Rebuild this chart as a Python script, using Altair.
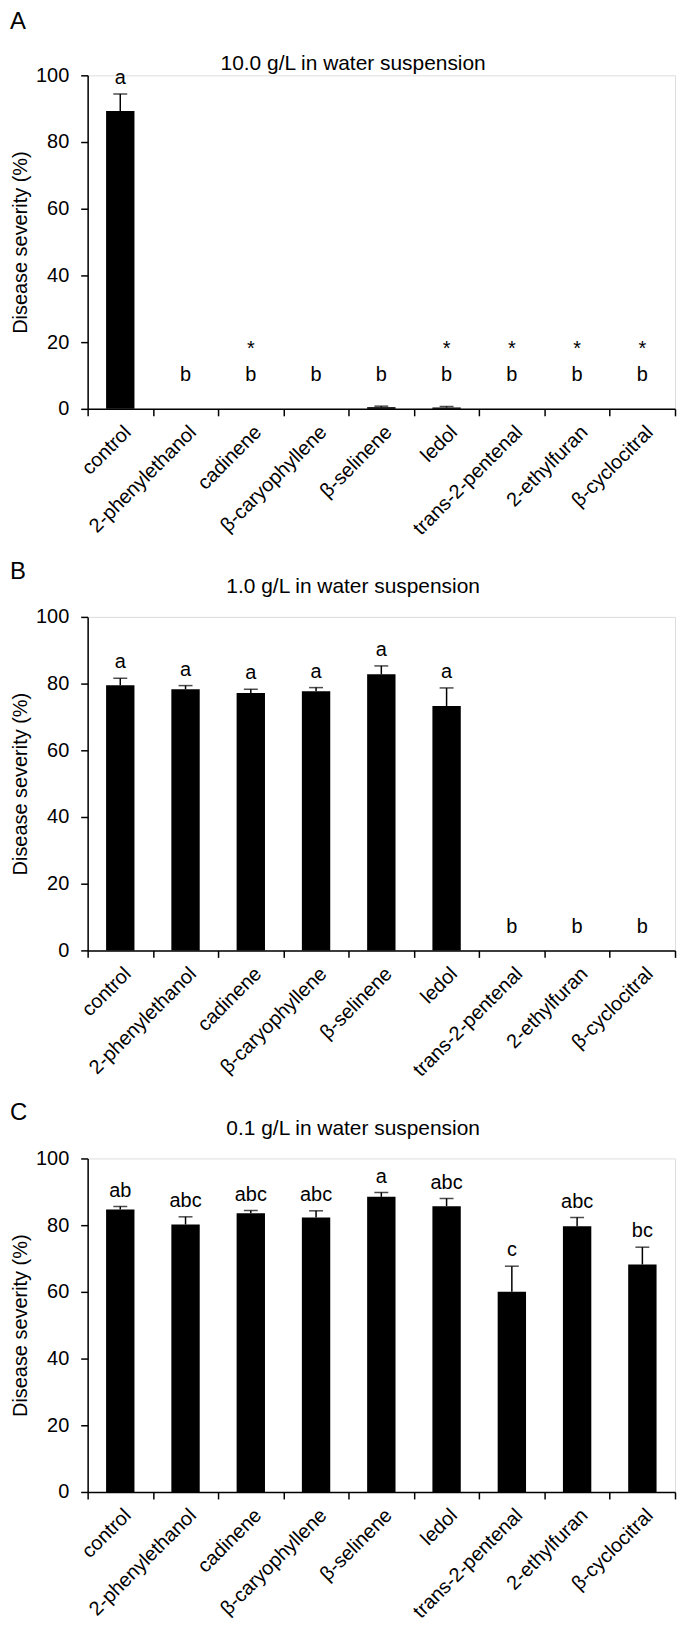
import altair as alt
import pandas as pd

compounds = ["control", "2-phenylethanol", "cadinene", "β-caryophyllene", "β-selinene",
             "ledol", "trans-2-pentenal", "2-ethylfuran", "β-cyclocitral"]

panel_letters = ["A", "B", "C"]
panel_titles = ["10.0 g/L in water suspension",
                "1.0 g/L in water suspension",
                "0.1 g/L in water suspension"]

# 10.0 g/L
sev_10 = [89.3, 0.0, 0.0, 0.0, 0.5, 0.4, 0.0, 0.0, 0.0]
sem_10 = [5.1, 0.0, 0.0, 0.0, 0.3, 0.3, 0.0, 0.0, 0.0]
grp_10 = ["a", "b", "b", "b", "b", "b", "b", "b", "b"]
star_10 = ["", "", "*", "", "", "*", "*", "*", "*"]

# 1.0 g/L
sev_1 = [79.5, 78.3, 77.2, 77.7, 82.8, 73.3, 0.0, 0.0, 0.0]
sem_1 = [2.1, 1.1, 1.1, 1.1, 2.5, 5.4, 0.0, 0.0, 0.0]
grp_1 = ["a", "a", "a", "a", "a", "a", "b", "b", "b"]
star_1 = ["", "", "", "", "", "", "", "", ""]

# 0.1 g/L
sev_01 = [84.7, 80.2, 83.6, 82.3, 88.5, 85.7, 60.0, 79.7, 68.2]
sem_01 = [0.9, 2.3, 0.8, 2.0, 1.3, 2.3, 7.7, 2.6, 5.2]
grp_01 = ["ab", "abc", "abc", "abc", "a", "abc", "c", "abc", "bc"]
star_01 = ["", "", "", "", "", "", "", "", ""]

# lowest height (in % units) at which a letter is written above an empty bar
label_floor = [5.4, 2.1, 0.0]

FONT = "Liberation Sans"
W, H = 590, 335


def panel(sev, sem, grp, star, floor, title, letter, title_off, letter_off):
    df = pd.DataFrame({"compound": compounds, "sev": sev, "sem": sem,
                       "grp": grp, "star": star})
    df["top"] = df["sev"] + df["sem"]
    df["lab"] = df["top"].clip(lower=floor)

    x = alt.X("compound:N", sort=compounds,
              scale=alt.Scale(paddingInner=0, paddingOuter=0),
              axis=alt.Axis(title=None, labelAngle=-45, labelAlign="right",
                            labelBaseline="top", labelPadding=6,
                            labelFontSize=20, labelFont=FONT, labelColor="black",
                            tickBand="extent", tickSize=7, tickColor="black",
                            tickWidth=1.5, domainColor="black", domainWidth=1.5,
                            labelLimit=300))
    yscale = alt.Scale(domain=[0, 100], nice=False, zero=True)
    y = alt.Y("sev:Q", scale=yscale,
              axis=alt.Axis(values=[0, 20, 40, 60, 80, 100], grid=False,
                            title="Disease severity (%)", titleFontSize=20,
                            titleFont=FONT, titleFontWeight="normal",
                            titleColor="black", titlePadding=5,
                            labelFontSize=20, labelFont=FONT, labelColor="black",
                            labelPadding=12, tickSize=7, tickColor="black",
                            tickWidth=1.5, domainColor="black", domainWidth=1.5))

    base = alt.Chart(df)
    bars = base.mark_bar(color="black", size=28.5).encode(x=x, y=y)
    err = base.transform_filter("datum.sem > 0").mark_rule(
        color="black", strokeWidth=1.5).encode(
        x=alt.X("compound:N", sort=compounds),
        y=alt.Y("sev:Q", scale=yscale), y2="top:Q")
    cap = base.transform_filter("datum.sem > 0").mark_tick(
        color="black", thickness=1.5, size=14).encode(
        x=alt.X("compound:N", sort=compounds),
        y=alt.Y("top:Q", scale=yscale))
    letters = base.mark_text(font=FONT, fontSize=20, color="black",
                             baseline="alphabetic", dy=-10).encode(
        x=alt.X("compound:N", sort=compounds),
        y=alt.Y("lab:Q", scale=yscale), text="grp:N")
    stars = base.transform_filter("datum.star != ''").mark_text(
        font=FONT, fontSize=20, color="black", baseline="alphabetic",
        dy=-36).encode(
        x=alt.X("compound:N", sort=compounds),
        y=alt.Y("lab:Q", scale=yscale), text="star:N")

    layer = alt.layer(bars, err, cap, letters, stars).properties(
        width=W, height=H,
        title=alt.Title(title, fontSize=21, font=FONT, fontWeight="normal",
                        color="black", anchor="middle", frame="bounds",
                        offset=title_off, dx=10))
    return alt.vconcat(layer).properties(
        title=alt.Title(letter, fontSize=24, font=FONT, fontWeight="normal",
                        color="black", anchor="start", frame="bounds",
                        offset=letter_off))


pA = panel(sev_10, sem_10, grp_10, star_10, label_floor[0], panel_titles[0],
           panel_letters[0], -9, 19)
pB = panel(sev_1, sem_1, grp_1, star_1, label_floor[1], panel_titles[1],
           panel_letters[1], 10, -8)
pC = panel(sev_01, sem_01, grp_01, star_01, label_floor[2], panel_titles[2],
           panel_letters[2], 10, -8)

chart = alt.vconcat(pA, pB, pC, spacing=20).properties(
    padding={"left": 2, "top": -2, "right": 0, "bottom": 0}
).configure_view(stroke=None).configure(font=FONT)

chart.save("out.html", embed_options={"renderer": "svg", "actions": False})
